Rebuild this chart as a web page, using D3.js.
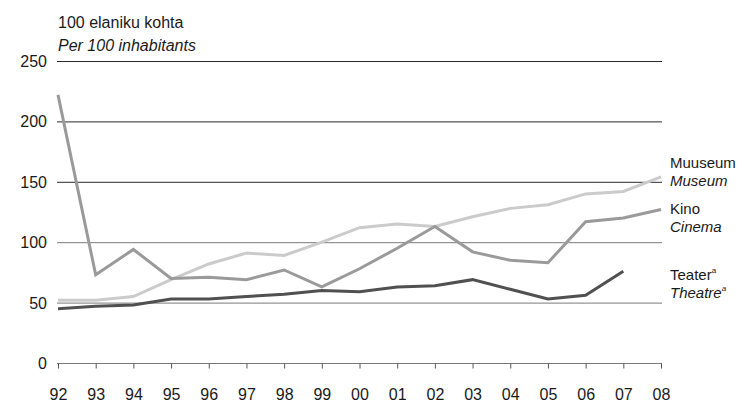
<!DOCTYPE html>
<html><head><meta charset="utf-8">
<script src="https://cdn.jsdelivr.net/npm/d3@7"></script>
<style>body{margin:0;background:#fff}svg{display:block}text{font-family:"Liberation Sans",Arial,sans-serif;fill:#1a1a1a}</style>
</head><body><svg id="c" width="752" height="403"></svg>
<script>
const years = ["92","93","94","95","96","97","98","99","00","01","02","03","04","05","06","07","08"];
const kino = [222,73,94,70,71,69,77,63,78,95,113,92,85,83,117,120,127];
const muuseum = [52,52,55,69,82,91,89,100,112,115,113,121,128,131,140,142,154];
const teater = [45,47,48,53,53,55,57,60,59,63,64,69,61,53,56,76,null];
const yTicks = [0,50,100,150,200,250];

const svg = d3.select("#c");
const x = d3.scalePoint().domain(years).range([58, 661]);
const y = d3.scaleLinear().domain([0,250]).range([363, 61]);

// gridlines
svg.append("g").selectAll("line").data(yTicks.filter(d=>d>0)).join("line")
  .attr("x1",57).attr("x2",662).attr("y1",d=>y(d)+0.5).attr("y2",d=>y(d)+0.5)
  .attr("stroke",d=>d>=150?"#2a2a2a":"#7a7a7a").attr("stroke-width",1);

// y labels
svg.append("g").selectAll("text").data(yTicks).join("text")
  .attr("x",47).attr("y",d=>y(d)+6).attr("text-anchor","end")
  .attr("font-size",16).text(d=>d);

// x axis
const xa = svg.append("g").attr("transform","translate(0,363.5)")
  .call(d3.axisBottom(x).tickSize(5).tickPadding(20));
xa.select(".domain").attr("stroke","#7a7a7a").attr("d","M57,0H662");
xa.selectAll(".tick line").attr("stroke","#555");
xa.selectAll(".tick text").attr("font-size",16).attr("font-family","Liberation Sans, Arial, sans-serif").attr("fill","#1a1a1a");

const line = d3.line().defined(d=>d.v!=null).x(d=>x(d.k)).y(d=>y(d.v));
const series = [
  {vals:muuseum, color:"#cbcbcb"},
  {vals:kino, color:"#9a9a9a"},
  {vals:teater, color:"#505050"}
];
series.forEach(s=>{
  svg.append("path").datum(years.map((k,i)=>({k,v:s.vals[i]})))
    .attr("d",line).attr("fill","none").attr("stroke",s.color)
    .attr("stroke-width",3).attr("stroke-linejoin","miter");
});

// title
svg.append("text").attr("x",58).attr("y",28).attr("font-size",16).text("100 elaniku kohta");
svg.append("text").attr("x",58).attr("y",51).attr("font-size",16).attr("font-style","italic").text("Per 100 inhabitants");

// series labels
const lab = [
  {a:"Muuseum", b:"Museum", y:168, sup:false},
  {a:"Kino", b:"Cinema", y:214, sup:false},
  {a:"Teater", b:"Theatre", y:280, sup:true}
];
lab.forEach(l=>{
  const t1 = svg.append("text").attr("x",670).attr("y",l.y).attr("font-size",15).text(l.a);
  const t2 = svg.append("text").attr("x",670).attr("y",l.y+18).attr("font-size",15).attr("font-style","italic").text(l.b);
  if(l.sup){
    t1.append("tspan").attr("font-size",8).attr("dy",-7).text("a");
    t2.append("tspan").attr("font-size",8).attr("dy",-7).text("a");
  }
});
</script></body></html>
